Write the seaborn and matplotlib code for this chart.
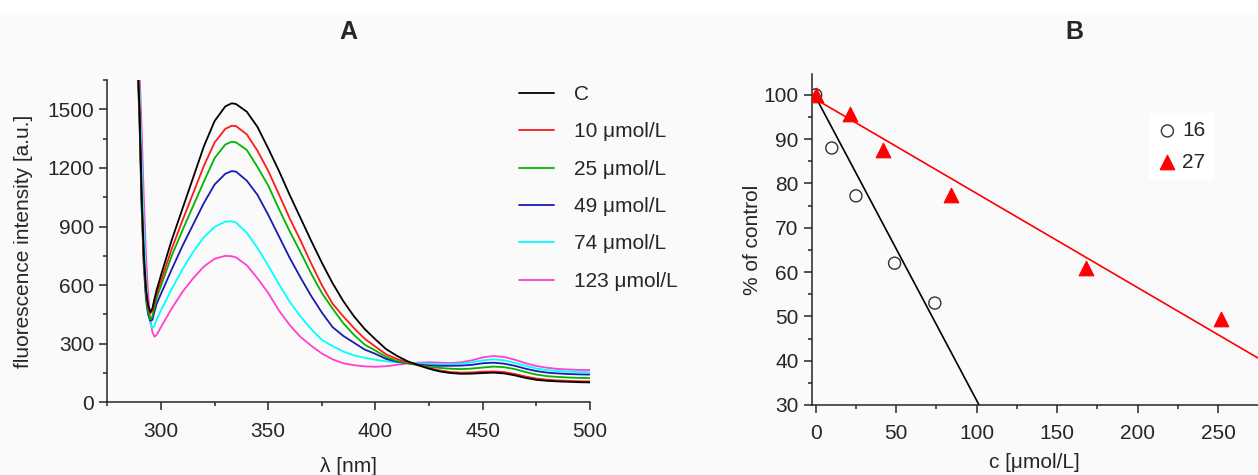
import matplotlib.pyplot as plt
import matplotlib.ticker as mticker
from matplotlib.patches import Rectangle
import seaborn as sns

# --- Panel A: fluorescence emission spectra ---
wavelength = [289, 290, 291, 292, 293, 294, 295, 296, 297, 298,
              300, 305, 310, 315, 320, 325, 330, 333,
              335, 340, 345, 350, 355, 360, 365, 370, 375, 380,
              385, 390, 395, 400, 405, 410, 415, 420, 425, 430,
              435, 440, 445, 450, 455, 460, 465, 470, 475, 480,
              485, 490, 495, 500]

spec_c = [1800, 1500, 1060, 760, 580, 500, 462, 480, 530, 575,
          650, 830, 990, 1150, 1310, 1440, 1515, 1531,
          1527, 1488, 1410, 1300, 1185, 1062, 945, 828, 715, 610,
          518, 440, 375, 322, 272, 238, 210, 190, 172, 158,
          150, 146, 147, 150, 152, 148, 138, 125, 115, 110,
          107, 105, 103, 102]
spec_10 = [1800, 1480, 1040, 740, 570, 490, 455, 468, 515, 555,
           620, 785, 930, 1070, 1210, 1330, 1400, 1416,
           1414, 1372, 1288, 1185, 1065, 942, 830, 712, 600, 505,
           440, 380, 325, 285, 245, 222, 205, 190, 175, 163,
           155, 152, 153, 157, 158, 155, 145, 132, 122, 116,
           112, 110, 108, 107]
spec_25 = [1780, 1460, 1020, 720, 550, 465, 425, 438, 490, 535,
           595, 750, 880, 1005, 1130, 1250, 1320, 1334,
           1331, 1292, 1205, 1110, 990, 876, 770, 660, 560, 480,
           405, 345, 295, 265, 232, 212, 200, 190, 182, 176,
           172, 170, 173, 178, 183, 180, 170, 155, 142, 134,
           130, 127, 125, 124]
spec_49 = [1760, 1440, 1000, 700, 530, 450, 418, 422, 465, 505,
           555, 680, 800, 910, 1020, 1115, 1170, 1184,
           1181, 1135, 1062, 960, 850, 740, 640, 545, 460, 385,
           340, 305, 270, 248, 222, 208, 200, 193, 189, 187,
           187, 188, 192, 200, 203, 198, 187, 172, 160, 152,
           148, 145, 143, 142]
spec_74 = [1800, 1600, 1250, 900, 640, 480, 405, 380, 392, 425,
           470, 580, 680, 770, 845, 898, 925, 927,
           920, 868, 790, 700, 605, 515, 440, 375, 320, 288,
           260, 240, 228, 218, 210, 205, 201, 199, 197, 195,
           195, 198, 205, 215, 220, 215, 202, 187, 173, 165,
           160, 157, 155, 154]
spec_123 = [1800, 1700, 1400, 1050, 760, 560, 430, 360, 336, 345,
            385, 480, 565, 635, 695, 735, 750, 748,
            742, 702, 635, 560, 470, 396, 335, 290, 250, 220,
            200, 190, 184, 182, 185, 192, 199, 203, 205, 203,
            201, 205, 215, 230, 237, 232, 218, 200, 186, 177,
            171, 168, 166, 165]

spec_labels = ['C', '10 μmol/L', '25 μmol/L', '49 μmol/L', '74 μmol/L', '123 μmol/L']
spec_values = [spec_c, spec_10, spec_25, spec_49, spec_74, spec_123]
spec_colors = ['#000000', '#ff1a1a', '#00b400', '#1a1ab4', '#00ffff', '#ff40d0']

# --- Panel B: % of control vs concentration ---
conc_16 = [0, 10, 25, 49, 74]
pct_16 = [100, 88, 77.2, 62, 53]
conc_27 = [0, 21, 42, 84, 168, 252]
pct_27 = [100, 95.7, 87.5, 77.5, 61, 49.5]
# linear fits (intercept, slope) as drawn in the figure
fit_16 = [99.5, -0.685]
fit_27 = [99.0, -0.2126]

sns.set_style("ticks")
plt.rcParams['font.family'] = ['Liberation Sans', 'DejaVu Sans']
plt.rcParams['axes.linewidth'] = 1.1
bg = '#fafafa'
fs = 15

fig = plt.figure(figsize=(12.58, 4.75), dpi=100, facecolor=bg)
fig.patches.append(Rectangle((0, 1 - 13 / 475), 1, 13 / 475, transform=fig.transFigure,
                             facecolor='white', edgecolor='none', zorder=-1))
axA = fig.add_axes([0.0853, 0.153, 0.3837, 0.6785])
axB = fig.add_axes([0.6452, 0.1474, 0.3548, 0.6968])

# Panel A (draw in reverse so the control curve ends on top)
for lab, vals, col in list(zip(spec_labels, spec_values, spec_colors))[::-1]:
    sns.lineplot(x=wavelength, y=vals, color=col, lw=1.3, label=lab, ax=axA)
handles, labels = axA.get_legend_handles_labels()
axA.legend(handles[::-1], labels[::-1], loc='upper left', bbox_to_anchor=(0.835, 1.01),
           frameon=False, fontsize=fs, handlelength=1.7, handletextpad=0.95,
           labelspacing=0.88, borderaxespad=0)
axA.set_xlim(275, 500)
axA.set_ylim(0, 1650)
axA.xaxis.set_major_locator(mticker.MultipleLocator(50))
axA.xaxis.set_minor_locator(mticker.MultipleLocator(25))
axA.yaxis.set_major_locator(mticker.MultipleLocator(300))
axA.yaxis.set_minor_locator(mticker.MultipleLocator(150))
axA.set_xlabel('λ [nm]', fontsize=fs, labelpad=12)
axA.set_ylabel('fluorescence intensity [a.u.]', fontsize=fs, labelpad=10)

# Panel B
sns.scatterplot(x=conc_16, y=pct_16, marker='o', s=75, facecolor='none',
                edgecolor='#333333', linewidth=1.0, label='16', ax=axB, zorder=3)
sns.scatterplot(x=conc_27, y=pct_27, marker='^', s=110, color='#ff0000',
                edgecolor='#ff0000', label='27', ax=axB, zorder=3)
xmax = 274.7
sns.lineplot(x=[0, xmax], y=[fit_16[0], fit_16[0] + fit_16[1] * xmax],
             color='black', lw=1.2, ax=axB, zorder=2)
sns.lineplot(x=[0, xmax], y=[fit_27[0], fit_27[0] + fit_27[1] * xmax],
             color='#ff0000', lw=1.2, ax=axB, zorder=2)
axB.legend(loc='upper left', bbox_to_anchor=(0.755, 0.882), fontsize=fs, frameon=True,
           facecolor='white', edgecolor='none', framealpha=1, fancybox=False,
           handlelength=1.0, handletextpad=0.2, labelspacing=0.6, borderaxespad=0)
axB.set_xlim(-2.5, xmax)
axB.set_ylim(30, 104.7)
axB.xaxis.set_major_locator(mticker.MultipleLocator(50))
axB.xaxis.set_minor_locator(mticker.MultipleLocator(25))
axB.yaxis.set_major_locator(mticker.MultipleLocator(10))
axB.yaxis.set_minor_locator(mticker.MultipleLocator(5))
axB.set_xlabel('c [μmol/L]', fontsize=fs, labelpad=7)
axB.set_ylabel('% of control', fontsize=fs, labelpad=1)

for ax in (axA, axB):
    ax.set_facecolor(bg)
    sns.despine(ax=ax)
    ax.tick_params(which='major', direction='out', length=6, width=1.1, labelsize=fs)
    ax.tick_params(which='minor', direction='out', length=3, width=1.1)
    ax.tick_params(axis='x', which='major', pad=8)

fig.text(348.5 / 1258, 1 - 32 / 475, 'A', ha='center', va='center', fontsize=18, fontweight='bold')
fig.text(1074 / 1258, 1 - 32 / 475, 'B', ha='center', va='center', fontsize=18, fontweight='bold')

fig.savefig('out.png', dpi=100, facecolor=bg)
